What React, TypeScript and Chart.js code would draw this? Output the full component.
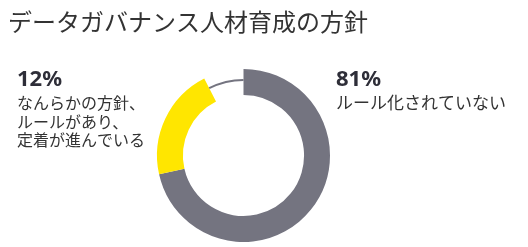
import React, { useEffect, useRef } from "react";
import { Chart, registerables } from "chart.js";

Chart.register(...registerables);

const titleText = "データガバナンス人材育成の方針";
const categories = ["ルール化されていない", "なんらかの方針、ルールがあり、定着が進んでいる", "その他"];
const ringValues = [71.5, 21, 7.5];
const percentLabels = ["81%", "12%"];
const rightLines = ["ルール化されていない"];
const leftLines = ["なんらかの方針、", "ルールがあり、", "定着が進んでいる"];
const colors = ["#747480", "#FFE600", "rgba(0,0,0,0)"];

const JP = '"Noto Sans CJK JP", "Noto Sans", sans-serif';

const overlay = {
  id: "overlay",
  afterDatasetsDraw(chart: any) {
    const ctx = chart.ctx;
    const meta = chart.getDatasetMeta(0);
    const arc = meta.data[2];
    if (arc) {
      const p = arc.getProps(["x", "y", "startAngle", "endAngle", "innerRadius", "outerRadius"], true);
      const r = (p.innerRadius + p.outerRadius) / 2 + 2;
      ctx.save();
      ctx.beginPath();
      ctx.arc(p.x, p.y, r, p.startAngle, p.endAngle);
      ctx.strokeStyle = "#747480";
      ctx.lineWidth = 2;
      ctx.stroke();
      ctx.restore();
    }
    ctx.save();
    ctx.textBaseline = "middle";
    ctx.textAlign = "left";
    ctx.fillStyle = "#333333";
    ctx.font = `24px ${JP}`;
    ctx.fillText(titleText, 8, 22);

    ctx.fillStyle = "#2e2e38";
    ctx.font = `bold 22px "Noto Sans", sans-serif`;
    ctx.fillText(percentLabels[1], 17, 80);
    ctx.fillText(percentLabels[0], 336, 80);

    ctx.fillStyle = "#333333";
    ctx.font = `16px ${JP}`;
    leftLines.forEach((t, i) => ctx.fillText(t, 17, 103 + i * 18.5));
    ctx.font = `17px ${JP}`;
    rightLines.forEach((t, i) => ctx.fillText(t, 336, 103 + i * 18.5));
    ctx.restore();
  },
};

export default function App() {
  const ref = useRef<HTMLCanvasElement>(null);
  useEffect(() => {
    document.body.style.margin = "0";
    const chart = new Chart(ref.current!, {
      type: "doughnut",
      data: {
        labels: categories,
        datasets: [
          {
            data: ringValues,
            backgroundColor: colors,
            borderWidth: 0,
          },
        ],
      },
      options: {
        animation: false,
        responsive: false,
        cutout: "70%",
        layout: { padding: { top: 69, bottom: 5, left: 0, right: 41 } },
        plugins: {
          legend: { display: false },
          tooltip: { enabled: false },
          title: { display: false },
        },
      },
      plugins: [overlay],
    });
    return () => chart.destroy();
  }, []);
  return (
    <div style={{ width: 528, height: 247, background: "#fff" }}>
      <canvas ref={ref} width={528} height={247} style={{ width: 528, height: 247, display: "block" }} />
    </div>
  );
}
